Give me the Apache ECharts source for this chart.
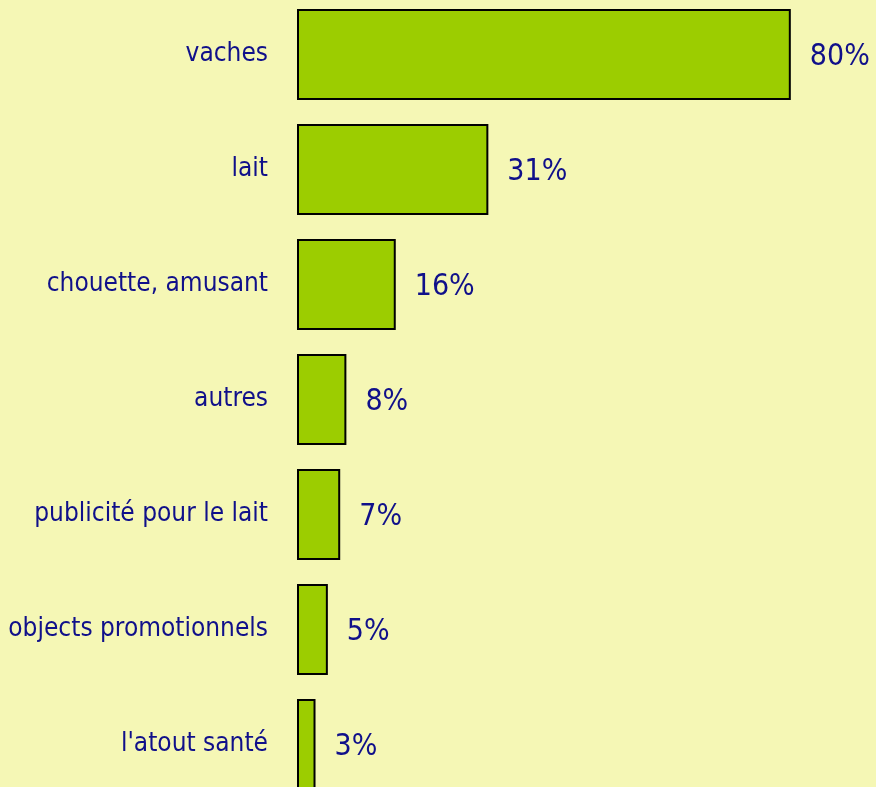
<!DOCTYPE html>
<html>
<head>
<meta charset="utf-8">
<script src="https://cdn.jsdelivr.net/npm/echarts@6/dist/echarts.min.js"></script>
<style>
  html, body { margin: 0; padding: 0; background: #f5f7b5; }
  #chart { width: 876px; height: 787px; }
</style>
</head>
<body>
<div id="chart"></div>
<script>
// categories, top to bottom
var categories = ['vaches', 'lait', 'chouette, amusant', 'autres',
  'publicité pour le lait', 'objects promotionnels', "l'atout santé"];
// percentages
var values = [80, 31, 16, 8, 7, 5, 3];

var FONT = '"Liberation Sans Narrow", "DejaVu Sans Condensed", sans-serif';
var NAVY = '#10108a';

var chart = echarts.init(document.getElementById('chart'));

chart.setOption({
  backgroundColor: '#f5f7b5',
  animation: false,
  grid: { left: 297, right: 0, top: -3, height: 805, outerBoundsMode: 'none', containLabel: false },
  xAxis: {
    type: 'value',
    min: 0,
    max: 93.8,
    show: false
  },
  yAxis: {
    type: 'category',
    inverse: true,
    data: categories,
    axisLine: { show: false },
    axisTick: { show: false },
    splitLine: { show: false },
    axisLabel: {
      margin: 29,
      color: NAVY,
      fontFamily: FONT,
      fontSize: 26
    }
  },
  series: [{
    type: 'bar',
    data: values,
    barCategoryGap: '21%',
    itemStyle: {
      color: '#9ccd00',
      borderColor: '#000',
      borderWidth: 2
    },
    label: {
      show: true,
      position: 'right',
      distance: 19,
      offset: [0, 3],
      color: NAVY,
      fontFamily: FONT,
      fontSize: 30,
      formatter: '{c}%'
    }
  }]
});
</script>
</body>
</html>
